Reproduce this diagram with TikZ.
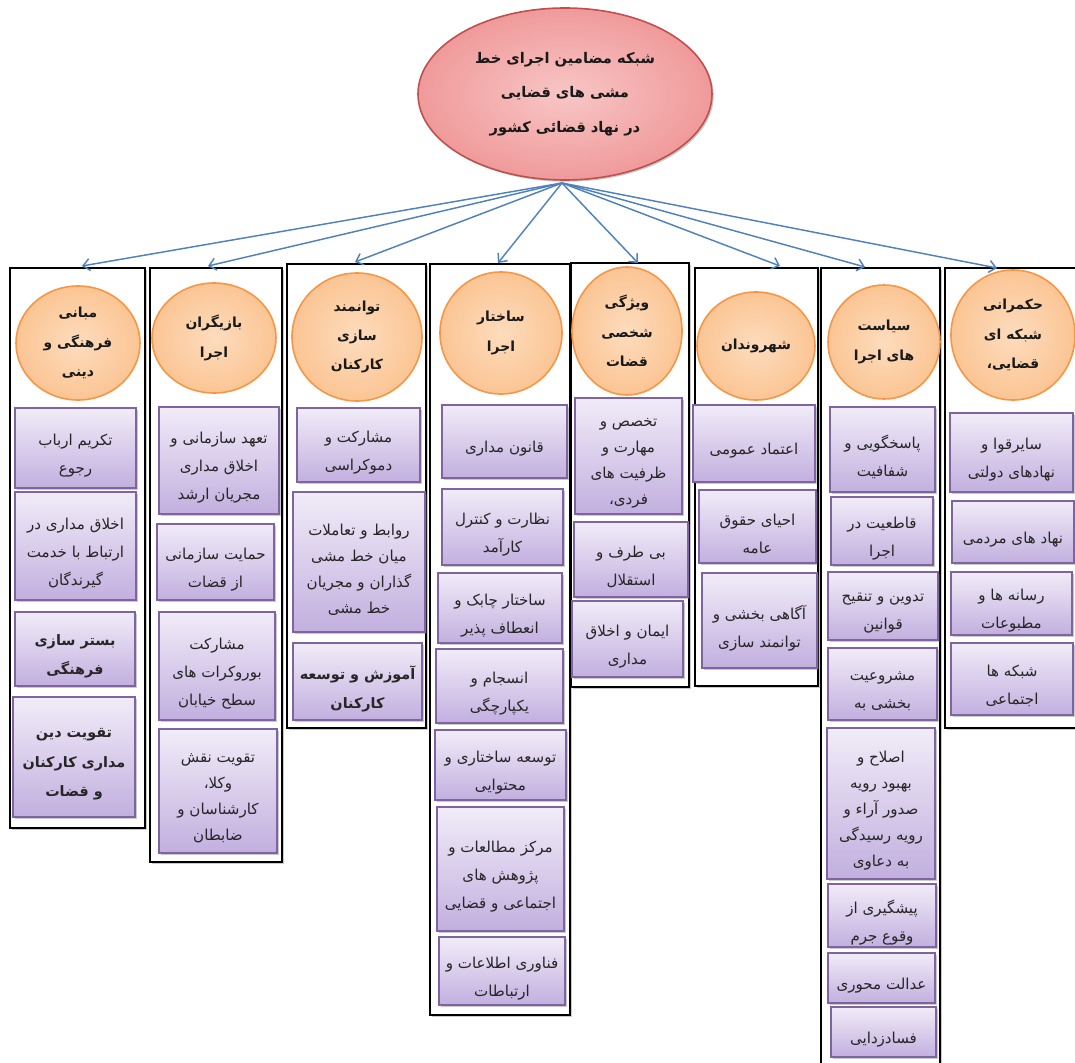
\documentclass[tikz,border=0pt]{standalone}
\usepackage{fontspec}
\newfontfamily\arabicfont[Script=Arabic]{DejaVu Sans}
\TeXXeTstate=1
\usetikzlibrary{shapes.geometric,shadows,fit,arrows.meta}
\newcommand\fa[1]{\beginR #1\endR}
\definecolor{pborder}{HTML}{8064A2}
\definecolor{ptop}{HTML}{F1ECF8}
\definecolor{pbot}{HTML}{C2AFDF}
\definecolor{oborder}{HTML}{F79646}
\definecolor{ofill}{HTML}{FBC594}
\definecolor{ofillin}{HTML}{FDDCBD}
\definecolor{rborder}{HTML}{C0504D}
\definecolor{rfill}{HTML}{F09A9A}
\definecolor{rfillin}{HTML}{F8C6C6}
\definecolor{arr}{HTML}{4F81BD}
\tikzset{
  shad/.style={drop shadow={opacity=0.35,shadow xshift=1.3pt,shadow yshift=-1.3pt,fill=black!60}},
  pframe/.style={draw=pborder, line width=1.2pt, top color=ptop, bottom color=pbot, shad, inner sep=0pt},
  pbox/.style={yshift=-5.5pt, inner sep=0pt, align=center, text=black!85,
    font=\arabicfont\fontsize{11.3}{21}\selectfont},
  pboxt/.style={pbox, font=\arabicfont\fontsize{11.3}{19.5}\selectfont},
  pboxb/.style={pbox, font=\arabicfont\bfseries\fontsize{10.8}{22}\selectfont},
  colbox/.style={draw=black, line width=1.4pt, fill=white, shad, inner sep=0pt},
  circ/.style={ellipse, draw=oborder, line width=1.2pt, inner color=ofillin, outer color=ofill,
    align=center, inner sep=0pt, text=black!90,
    font=\arabicfont\bfseries\fontsize{10.4}{22}\selectfont},
  topell/.style={ellipse, draw=rborder, line width=1.2pt, inner color=rfillin, outer color=rfill,
    align=center, inner sep=0pt, text=black!90, shad,
    font=\arabicfont\bfseries\fontsize{11}{26}\selectfont},
  conn/.style={draw=arr, line width=1.1pt, -{Straight Barb[length=5pt,width=9pt]}}
}
\newcommand\pb[7][pbox]{\node[pframe, fit={(#3,#4) (#5,#6)}, label={[#1]center:{#7}}] (#2) {};}
\newcommand\cb[5]{\node[colbox, fit={(#2,#3) (#4,#5)}] (#1) {};}
\newcommand\cn[6]{\node[circ, minimum width=#4*1.5pt, minimum height=#5*1.5pt] (#1) at (#2,#3) {#6};}
\begin{document}
\begin{tikzpicture}[x=0.75pt,y=-0.75pt]
\useasboundingbox (0,0) rectangle (1075,1063);
% top ellipse
\node[topell, minimum width=294*0.75pt, minimum height=172*0.75pt] (top) at (565,94)
  {\fa{شبکه مضامین اجرای خط}\\\fa{مشی های قضایی}\\\fa{در نهاد قضائی کشور}};
% columns
\cb{col1}{10}{268}{145}{828}
\cb{col2}{150}{268}{282}{862}
\cb{col3}{287}{264}{426}{728}
\cb{col4}{430}{264}{570}{1015}
\cb{col5}{571}{263}{689}{687}
\cb{col6}{695}{268}{818}{686}
\cb{col7}{821}{268}{940}{1075}
\cb{col8}{945}{268}{1085}{728}
% circles
\cn{k1}{78}{343}{62}{57}{\fa{مبانی}\\\fa{فرهنگی و}\\\fa{دینی}}
\cn{k2}{214}{338}{62}{55}{\fa{بازیگران}\\\fa{اجرا}}
\cn{k3}{357}{337}{65}{64}{\fa{توانمند}\\\fa{سازی}\\\fa{کارکنان}}
\cn{k4}{501}{333}{61}{61}{\fa{ساختار}\\\fa{اجرا}}
\cn{k5}{627}{331}{55}{64}{\fa{ویژگی}\\\fa{شخصی}\\\fa{قضات}}
\cn{k6}{756}{346}{59}{54}{\fa{شهروندان}}
\cn{k7}{884}{342}{56}{57}{\fa{سیاست}\\\fa{های اجرا}}
\cn{k8}{1013}{335}{62}{65}{\fa{حکمرانی}\\\fa{شبکه ای}\\\fa{قضایی،}}
% column 1
\pb{b1}{15}{408}{136}{488}{\fa{تکریم ارباب}\\\fa{رجوع}}
\pb{b2}{15}{492}{136}{600}{\fa{اخلاق مداری در}\\\fa{ارتباط با خدمت}\\\fa{گیرندگان}}
\pb[pboxb]{b3}{15}{612}{135}{686}{\fa{بستر سازی}\\\fa{فرهنگی}}
\pb[pboxb]{b4}{13}{697}{135}{817}{\fa{تقویت دین}\\\fa{مداری کارکنان}\\\fa{و قضات}}
% column 2
\pb{c1}{159}{407}{279}{514}{\fa{تعهد سازمانی و}\\\fa{اخلاق مداری}\\\fa{مجریان ارشد}}
\pb{c2}{157}{524}{274}{600}{\fa{حمایت سازمانی}\\\fa{از قضات}}
\pb{c3}{159}{612}{275}{720}{\fa{مشارکت}\\\fa{بوروکرات های}\\\fa{سطح خیابان}}
\pb[pboxt]{c4}{159}{729}{277}{853}{\fa{تقویت نقش}\\\fa{وکلا،}\\\fa{کارشناسان و}\\\fa{ضابطان}}
% column 3
\pb{d1}{297}{408}{420}{482}{\fa{مشارکت و}\\\fa{دموکراسی}}
\pb[pboxt]{d2}{293}{492}{425}{632}{\fa{روابط و تعاملات}\\\fa{میان خط مشی}\\\fa{گذاران و مجریان}\\\fa{خط مشی}}
\pb[pboxb]{d3}{293}{643}{422}{720}{\fa{آموزش و توسعه}\\\fa{کارکنان}}
% column 4
\pb{e1}{442}{405}{567}{478}{\fa{قانون مداری}}
\pb{e2}{442}{489}{563}{565}{\fa{نظارت و کنترل}\\\fa{کارآمد}}
\pb{e3}{438}{573}{562}{643}{\fa{ساختار چابک و}\\\fa{انعطاف پذیر}}
\pb{e4}{436}{649}{563}{723}{\fa{انسجام و}\\\fa{یکپارچگی}}
\pb{e5}{435}{730}{566}{800}{\fa{توسعه ساختاری و}\\\fa{محتوایی}}
\pb{e6}{437}{807}{564}{931}{\fa{مرکز مطالعات و}\\\fa{پژوهش های}\\\fa{اجتماعی و قضایی}}
\pb{e7}{439}{937}{565}{1005}{\fa{فناوری اطلاعات و}\\\fa{ارتباطات}}
% column 5
\pb[pboxt]{f1}{575}{398}{682}{514}{\fa{تخصص و}\\\fa{مهارت و}\\\fa{ظرفیت های}\\\fa{فردی،}}
\pb{f2}{574}{522}{688}{597}{\fa{بی طرف و}\\\fa{استقلال}}
\pb{f3}{572}{601}{683}{677}{\fa{ایمان و اخلاق}\\\fa{مداری}}
% column 6
\pb{g1}{693}{405}{815}{482}{\fa{اعتماد عمومی}}
\pb{g2}{699}{490}{816}{563}{\fa{احیای حقوق}\\\fa{عامه}}
\pb{g3}{702}{573}{817}{668}{\fa{آگاهی بخشی و}\\\fa{توانمند سازی}}
% column 7
\pb{h1}{830}{407}{935}{492}{\fa{پاسخگویی و}\\\fa{شفافیت}}
\pb{h2}{831}{497}{933}{565}{\fa{قاطعیت در}\\\fa{اجرا}}
\pb{h3}{828}{572}{938}{640}{\fa{تدوین و تنقیح}\\\fa{قوانین}}
\pb{h4}{828}{648}{937}{720}{\fa{مشروعیت}\\\fa{بخشی به}}
\pb[pboxt]{h5}{827}{728}{935}{879}{\fa{اصلاح و}\\\fa{بهبود رویه}\\\fa{صدور آراء و}\\\fa{رویه رسیدگی}\\\fa{به دعاوی}}
\pb{h6}{828}{884}{936}{947}{\fa{پیشگیری از}\\\fa{وقوع جرم}}
\pb{h7}{828}{953}{935}{1003}{\fa{عدالت محوری}}
\pb{h8}{831}{1007}{936}{1057}{\fa{فسادزدایی}}
% column 8
\pb{i1}{950}{413}{1073}{492}{\fa{سایرقوا و}\\\fa{نهادهای دولتی}}
\pb{i2}{952}{501}{1074}{563}{\fa{نهاد های مردمی}}
\pb{i3}{951}{572}{1072}{635}{\fa{رسانه ها و}\\\fa{مطبوعات}}
\pb{i4}{951}{643}{1073}{715}{\fa{شبکه ها}\\\fa{اجتماعی}}
% arrows
\coordinate (src) at (562,183);
\coordinate (t1) at (82,266);
\coordinate (t2) at (208,266);
\coordinate (t3) at (355,262);
\coordinate (t4) at (498,263);
\coordinate (t5) at (638,263);
\coordinate (t6) at (780,266);
\coordinate (t7) at (865,267);
\coordinate (t8) at (997,268);
\foreach \t in {t1,t2,t3,t4,t5,t6,t7,t8}{\draw[conn] (src) -- (\t);}
\end{tikzpicture}
\end{document}
